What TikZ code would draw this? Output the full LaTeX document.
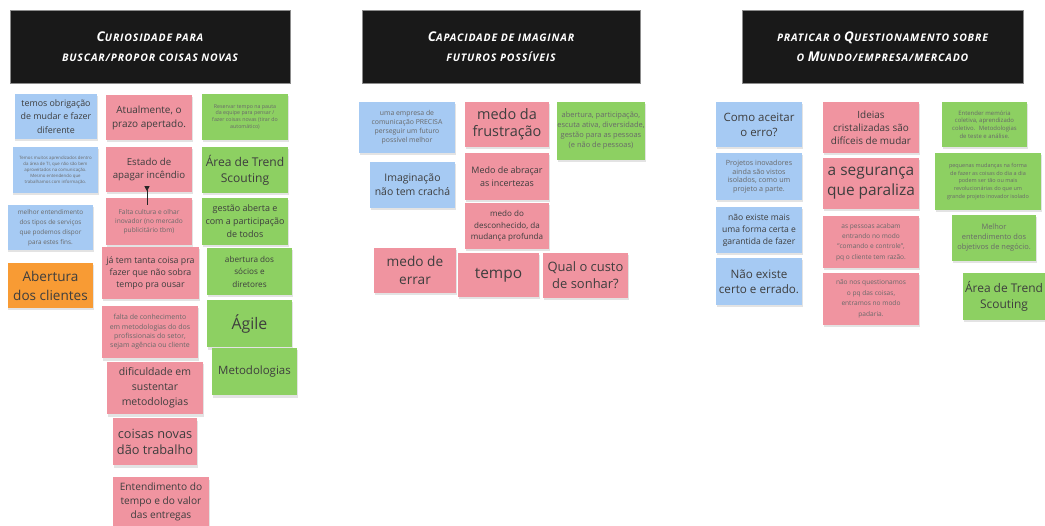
\documentclass[tikz,border=0pt]{standalone}
\usepackage{fontspec}
\setmainfont{Open Sans}
\newfontfamily\hdfont[LetterSpace=8]{Open Sans}
\usepackage{tikz}
\usetikzlibrary{shadows,arrows.meta}

\definecolor{stblue}{RGB}{166,202,243}
\definecolor{stpink}{RGB}{240,148,160}
\definecolor{stgreen}{RGB}{141,208,98}
\definecolor{storange}{RGB}{248,155,52}
\definecolor{sttext}{RGB}{62,62,62}
\definecolor{stfaint}{RGB}{105,105,105}

\newcommand\notefs[2]{\fontsize{#1}{#2}\selectfont}
\newcommand\hdcap[1]{{\fontsize{13.5}{13.5}\selectfont #1}}

\tikzset{
  note/.style={inner sep=0pt, align=center, text=sttext,
    drop shadow={opacity=0.22, shadow xshift=0.5bp, shadow yshift=-2.5bp}},
  bnote/.style={note, fill=stblue},
  pnote/.style={note, fill=stpink},
  gnote/.style={note, fill=stgreen},
  onote/.style={note, fill=storange},
  header/.style={fill=black!90, draw=black!45, line width=0.6bp, text=white,
    align=center, minimum width=#1, minimum height=73bp,
    font=\hdfont\notefs{10.5}{20}\bfseries\itshape},
}

\begin{document}
\begin{tikzpicture}[x=1bp, y=-1bp]
\fill[white] (0,0) rectangle (1045,526);
\useasboundingbox (0,0) rectangle (1045,526);

% headers
\node[header=280bp] (hcur) at (150,46.5) {\hdcap{C}URIOSIDADE PARA\\BUSCAR/PROPOR COISAS NOVAS};
\node[header=278bp] (hcap) at (501,46.5) {\hdcap{C}APACIDADE DE IMAGINAR\\FUTUROS POSSÍVEIS};
\node[header=281bp] (hpra) at (882.5,46.5) {PRATICAR O \hdcap{Q}UESTIONAMENTO SOBRE\\O \hdcap{M}UNDO/EMPRESA/MERCADO};

% curiosidade
\node[bnote, minimum width=82bp, minimum height=45bp, font=\notefs{8.9}{13.5}] (obrig) at (56,116.5) {temos obrigação\\de mudar e fazer\\diferente};
\node[bnote, minimum width=85bp, minimum height=46bp, font=\notefs{4.4}{6}, text=stfaint] (aprend) at (55.5,170) {Temos muitos aprendizados dentro\\da área de TI, que não são bem\\aproveitados na comunicação.\\Mesmo entendendo que\\trabalhamos com informação.};
\node[bnote, minimum width=85bp, minimum height=45bp, font=\notefs{6.4}{10}, text=stfaint] (melhor) at (50.5,227.5) {melhor entendimento\\dos tipos de serviços\\que podemos dispor\\para estes fins.};
\node[onote, minimum width=85bp, minimum height=45bp, font=\notefs{13.6}{19}] (abclient) at (50.5,285.5) {Abertura\\dos clientes};

\node[pnote, minimum width=86bp, minimum height=45bp, font=\notefs{10}{14}] (atual) at (149,117.5) {Atualmente, o\\prazo apertado.};
\node[pnote, minimum width=86bp, minimum height=45bp, font=\notefs{9.7}{14}] (estado) at (149,169.5) {Estado de\\apagar incêndio};
\node[pnote, minimum width=86bp, minimum height=47bp, font=\notefs{6.6}{9}, text=stfaint] (falta) at (149,221.5) {Falta cultura e olhar\\inovador (no mercado\\publicitário tbm)};
\node[pnote, minimum width=97bp, minimum height=52bp, font=\notefs{8.8}{12}] (jatem) at (150.5,273) {já tem tanta coisa pra\\fazer que não sobra\\tempo pra ousar};
\node[pnote, minimum width=96bp, minimum height=52bp, font=\notefs{7}{9.3}, text=stfaint] (faltacon) at (150,332) {falta de conhecimento\\em metodologias do dos\\profissionais do setor,\\sejam agência ou cliente};
\node[pnote, minimum width=96bp, minimum height=52bp, font=\notefs{10.5}{15}] (dific) at (155,388) {dificuldade em\\sustentar\\metodologias};
\node[pnote, minimum width=84bp, minimum height=47bp, font=\notefs{12.8}{16}] (coisas) at (155,441.5) {coisas novas\\dão trabalho};
\node[pnote, minimum width=96bp, minimum height=50bp, font=\notefs{10.2}{14}] (entend) at (161,502) {Entendimento do\\tempo e do valor\\das entregas};

\node[gnote, minimum width=86bp, minimum height=46bp, font=\notefs{5.3}{7}, text=stfaint] (reservar) at (245,117) {Reservar tempo na pauta\\da equipe para pensar /\\fazer coisas novas (tirar do\\automático)};
\node[gnote, minimum width=86bp, minimum height=46bp, font=\notefs{12.1}{16}] (trend) at (245,170) {Área de Trend\\Scouting};
\node[gnote, minimum width=86bp, minimum height=47bp, font=\notefs{9}{13}] (gestao) at (245,221.5) {gestão aberta e\\com a participação\\de todos};
\node[gnote, minimum width=85bp, minimum height=47bp, font=\notefs{8.2}{12.5}] (socios) at (249.5,271.5) {abertura dos\\sócios e\\diretores};
\node[gnote, minimum width=85bp, minimum height=47bp, font=\notefs{16}{20}] (agile) at (249.5,323.5) {Ágile};
\node[gnote, minimum width=85bp, minimum height=47bp, font=\notefs{11.5}{14}] (metod) at (254.5,371.5) {Metodologias};

\draw[{Triangle[reversed, length=5bp, width=5bp]}-, line width=1bp, black!85, shorten <=-6bp, shorten >=-7bp] ([xshift=-2bp]estado.south) -- ([xshift=-2bp]falta.north);

% imaginar
\node[bnote, minimum width=96bp, minimum height=51bp, font=\notefs{6.9}{9}, text=stfaint] (empresa) at (407,127.5) {uma empresa de\\comunicação PRECISA\\perseguir um futuro\\possível melhor};
\node[bnote, minimum width=85bp, minimum height=46bp, font=\notefs{10.5}{14}] (imagina) at (412.5,185) {Imaginação\\não tem crachá};
\node[pnote, minimum width=84bp, minimum height=45bp, font=\notefs{14.5}{17}] (frustra) at (507,124.5) {medo da\\frustração};
\node[pnote, minimum width=84bp, minimum height=47bp, font=\notefs{9}{13}] (abracar) at (507,176.5) {Medo de abraçar\\as incertezas};
\node[pnote, minimum width=84bp, minimum height=46bp, font=\notefs{8.1}{11.5}] (descon) at (507,226) {medo do\\desconhecido, da\\mudança profunda};
\node[pnote, minimum width=82bp, minimum height=45bp, font=\notefs{13.7}{18}] (errar) at (415,270.5) {medo de\\errar};
\node[pnote, minimum width=81bp, minimum height=44bp, font=\notefs{15.5}{18}] (tempo) at (498.5,275) {tempo};
\node[pnote, minimum width=85bp, minimum height=45bp, font=\notefs{13}{17}] (custo) at (585.5,275.5) {Qual o custo\\de sonhar?};
\node[gnote, minimum width=88bp, minimum height=58bp, font=\notefs{7.5}{10}, text=stfaint] (escuta) at (601,131) {abertura, participação,\\escuta ativa, diversidade,\\gestão para as pessoas\\(e não de pessoas)};

% questionamento
\node[bnote, minimum width=86bp, minimum height=45bp, font=\notefs{11.5}{15}] (aceitar) at (759,124.5) {Como aceitar\\o erro?};
\node[bnote, minimum width=86bp, minimum height=47bp, font=\notefs{7.2}{8.6}, text=stfaint] (projetos) at (759,176.5) {Projetos inovadores\\ainda são vistos\\isolados, como um\\projeto a parte.};
\node[bnote, minimum width=86bp, minimum height=46bp, font=\notefs{8.6}{12}] (forma) at (759,230) {não existe mais\\uma forma certa e\\garantida de fazer};
\node[bnote, minimum width=86bp, minimum height=47bp, font=\notefs{11.7}{15}] (certo) at (759,281.5) {Não existe\\certo e errado.};
\node[pnote, minimum width=96bp, minimum height=51bp, font=\notefs{10}{13}] (ideias) at (871,127.5) {Ideias\\cristalizadas são\\difíceis de mudar};
\node[pnote, minimum width=96bp, minimum height=51bp, font=\notefs{15.5}{20}] (seguranca) at (871,183.5) {a segurança\\que paraliza};
\node[pnote, minimum width=96bp, minimum height=52bp, font=\notefs{6.6}{10.5}, text=stfaint] (comando) at (871,242) {as pessoas acabam\\entrando no modo\\"comando e controle",\\pq o cliente tem razão.};
\node[pnote, minimum width=96bp, minimum height=52bp, font=\notefs{6.6}{10.5}, text=stfaint] (padaria) at (871,299) {não nos questionamos\\o pq das coisas,\\entramos no modo\\padaria.};
\node[gnote, minimum width=85bp, minimum height=45bp, font=\notefs{6}{7.8}, text=stfaint] (memoria) at (984.5,124.5) {Entender memória\\coletiva, aprendizado\\coletivo.~ Metodologias\\de teste e análise.};
\node[gnote, minimum width=106bp, minimum height=57bp, font=\notefs{5.5}{7.8}, text=stfaint] (pequenas) at (988,181.5) {pequenas mudanças na forma\\de fazer as coisas do dia a dia\\podem ser tão ou mais\\revolucionárias do que um\\grande projeto inovador isolado};
\node[gnote, minimum width=84bp, minimum height=46bp, font=\notefs{7.5}{10}, text=stfaint] (negocio) at (994,238) {Melhor\\entendimento dos\\objetivos de negócio.};
\node[gnote, minimum width=82bp, minimum height=47bp, font=\notefs{12}{16}] (trendb) at (1004,296.5) {Área de Trend\\Scouting};
\end{tikzpicture}
\end{document}
